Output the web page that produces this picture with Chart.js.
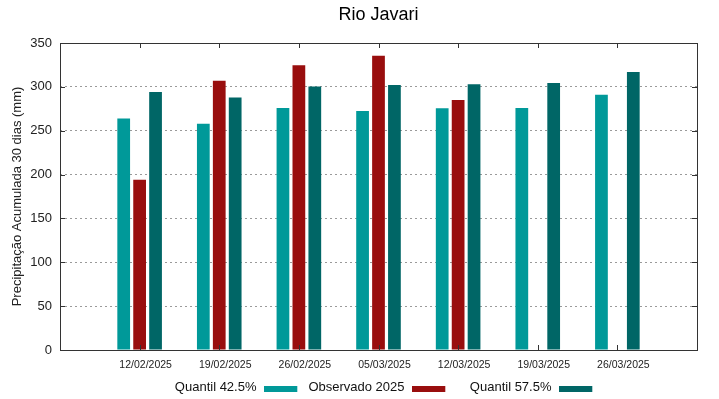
<!DOCTYPE html>
<html><head><meta charset="utf-8">
<script src="https://cdn.jsdelivr.net/npm/chart.js@4"></script>
<style>html,body{margin:0;padding:0;background:#fff}#wrap{width:719px;height:399px}</style>
</head><body><div id="wrap"><canvas id="c" width="719" height="399"></canvas></div>
<script>
const categories = ['', '12/02/2025', '19/02/2025', '26/02/2025', '05/03/2025', '12/03/2025', '19/03/2025', '26/03/2025', ''];
const quantil425 = [null, 264, 258, 276, 272.5, 275.5, 276, 291, null];
const observado2025 = [null, 194, 307, 324.5, 335.5, 285, null, null, null];
const quantil575 = [null, 294, 288, 300.5, 302, 303, 304.5, 317, null];
const yTicks = [0, 50, 100, 150, 200, 250, 300, 350];
const seriesNames = ['Quantil 42.5%', 'Observado 2025', 'Quantil 57.5%'];
const seriesColors = ['#009999', '#990e0e', '#006666'];

Chart.defaults.font.family = "'Liberation Sans', Arial, sans-serif";

const framePlugin = {
  id: 'frame',
  afterDraw(chart) {
    const ctx = chart.ctx, a = chart.chartArea;
    const xs = chart.scales.x, ys = chart.scales.y;
    ctx.save();
    ctx.strokeStyle = '#333';
    ctx.lineWidth = 1;
    ctx.setLineDash([]);
    ctx.strokeRect(Math.round(a.left) + 0.5, Math.round(a.top) + 0.5, Math.round(a.right - a.left), Math.round(a.bottom - a.top));
    ctx.beginPath();
    const tl = 5;
    categories.forEach((c, i) => {
      if (!c) return;
      const x = Math.round(xs.getPixelForValue(i)) + 0.5;
      ctx.moveTo(x, a.top); ctx.lineTo(x, a.top + tl);
      ctx.moveTo(x, a.bottom); ctx.lineTo(x, a.bottom - tl);
    });
    yTicks.forEach(v => {
      const y = Math.round(ys.getPixelForValue(v)) + 0.5;
      ctx.moveTo(a.left, y); ctx.lineTo(a.left + tl, y);
      ctx.moveTo(a.right, y); ctx.lineTo(a.right - tl, y);
    });
    ctx.stroke();
    // legend
    const swX = [264, 412, 559];
    ctx.font = "13px 'Liberation Sans', Arial, sans-serif";
    ctx.fillStyle = '#111';
    ctx.textAlign = 'right';
    ctx.textBaseline = 'alphabetic';
    seriesNames.forEach((n, i) => {
      ctx.fillStyle = '#111';
      ctx.fillText(n, swX[i] - 7.5, 391);
      ctx.fillStyle = seriesColors[i];
      ctx.fillRect(swX[i], 386, 33.3, 6);
    });
    ctx.restore();
  }
};

new Chart(document.getElementById('c'), {
  type: 'bar',
  data: {
    labels: categories,
    datasets: [
      { label: seriesNames[0], data: quantil425, backgroundColor: seriesColors[0] },
      { label: seriesNames[1], data: observado2025, backgroundColor: seriesColors[1] },
      { label: seriesNames[2], data: quantil575, backgroundColor: seriesColors[2] }
    ]
  },
  options: {
    responsive: false,
    animation: false,
    devicePixelRatio: 1,
    layout: { padding: { left: 0, right: 22, top: 0, bottom: 0 } },
    datasets: { bar: { barPercentage: 0.8, categoryPercentage: 0.6 } },
    plugins: {
      legend: { display: false },
      tooltip: { enabled: false },
      title: {
        display: true, text: 'Rio Javari', fullSize: false,
        font: { size: 18, weight: 'normal' }, color: '#000',
        padding: { top: 4, bottom: 17.4 }
      }
    },
    scales: {
      x: {
        type: 'category',
        offset: false,
        grid: { display: false, drawTicks: false },
        border: { display: false },
        ticks: { autoSkip: false, maxRotation: 0, minRotation: 0, labelOffset: 6, padding: 9, font: { size: 10.5 }, color: '#222' },
        afterFit(s) { s.height = 49; }
      },
      y: {
        min: 0, max: 350,
        afterBuildTicks(s) { s.ticks = yTicks.map(v => ({ value: v })); },
        grid: {
          drawTicks: false,
          color: ctx => (ctx.tick && (ctx.tick.value === 0 || ctx.tick.value === 350)) ? 'rgba(0,0,0,0)' : '#9a9a9a',
          lineWidth: 1
        },
        border: { display: false, dash: [2, 3] },
        ticks: { padding: 8, font: { size: 13 }, color: '#222' },
        title: { display: true, text: 'Precipitação Acumulada 30 dias (mm)', font: { size: 13 }, color: '#222', padding: { top: 10, bottom: 0 } },
        afterFit(s) { s.width = 60; }
      }
    }
  },
  plugins: [framePlugin]
});
</script>
</body></html>
